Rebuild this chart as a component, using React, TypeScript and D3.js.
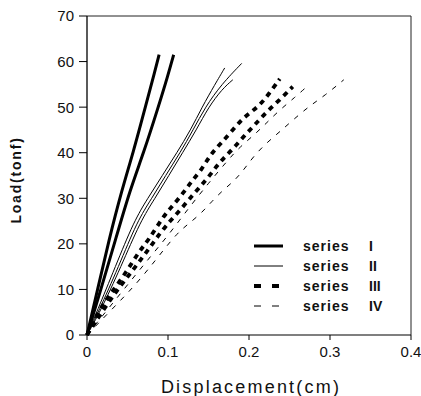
import React from "react";
import * as d3 from "d3";

const xTicks = [0, 0.1, 0.2, 0.3, 0.4];
const xTickLabels = ["0", "0.1", "0.2", "0.3", "0.4"];
const yTicks = [0, 10, 20, 30, 40, 50, 60, 70];

// Series I (thick solid) – two specimens
const seriesIa: [number, number][] = [
  [0, 0], [0.013, 9.9], [0.027, 20.8], [0.043, 31.8], [0.057, 40], [0.072, 50], [0.084, 58], [0.089, 61.5],
];
const seriesIb: [number, number][] = [
  [0, 0], [0.017, 9.9], [0.035, 20.8], [0.053, 31.8], [0.07, 40], [0.088, 50], [0.1, 57], [0.107, 61.5],
];
// Series II (thin solid) – three specimens
const seriesIIa: [number, number][] = [
  [0, 0], [0.012, 5], [0.035, 15], [0.058, 25], [0.075, 30], [0.093, 35], [0.111, 40], [0.128, 45], [0.142, 50], [0.158, 55], [0.17, 58.6],
];
const seriesIIb: [number, number][] = [
  [0, 0], [0.014, 5], [0.039, 15], [0.062, 25], [0.08, 30], [0.097, 35], [0.115, 40], [0.131, 45], [0.146, 50], [0.166, 55], [0.191, 59.6],
];
const seriesIIc: [number, number][] = [
  [0, 0], [0.016, 5], [0.042, 15], [0.066, 25], [0.084, 30], [0.101, 35], [0.118, 40], [0.135, 45], [0.15, 50], [0.167, 54], [0.18, 56],
];
// Series III (thick dashed) – two specimens
const seriesIIIa: [number, number][] = [
  [0, 0], [0.015, 5.5], [0.031, 9.5], [0.049, 13.9], [0.064, 18.3], [0.076, 20.8], [0.094, 26], [0.105, 28.2], [0.119, 31.2],
  [0.129, 33.7], [0.142, 36.4], [0.152, 39.5], [0.165, 42], [0.18, 45], [0.194, 47.9], [0.212, 50.1], [0.225, 53], [0.238, 56.2],
];
const seriesIIIb: [number, number][] = [
  [0, 0], [0.02, 5.5], [0.04, 10.5], [0.06, 15], [0.078, 19.3], [0.09, 22.3], [0.102, 24.9], [0.115, 27.4], [0.127, 30],
  [0.139, 32.4], [0.152, 35.1], [0.164, 38], [0.179, 40.6], [0.193, 43.5], [0.207, 46.1], [0.222, 49], [0.238, 51.6], [0.254, 54.5],
];
// Series IV (thin dashed) – two specimens
const seriesIVa: [number, number][] = [
  [0, 0], [0.025, 5.5], [0.05, 11], [0.075, 16.5], [0.1, 21.8], [0.127, 28.2], [0.15, 33.3], [0.174, 38.4],
  [0.189, 41.3], [0.207, 44], [0.222, 46.6], [0.238, 49.4], [0.257, 52.2], [0.272, 54.6],
];
const seriesIVb: [number, number][] = [
  [0, 0], [0.03, 5.5], [0.06, 11], [0.085, 16.5], [0.109, 21.9], [0.123, 24.1], [0.14, 26.5], [0.154, 29.3], [0.168, 31.8],
  [0.183, 34], [0.195, 36.6], [0.207, 39.5], [0.222, 42.2], [0.238, 44.6], [0.255, 47.3], [0.275, 50.3], [0.294, 52.6], [0.317, 56],
];

const legendLabels = ["series", "series", "series", "series"];
const legendNumerals = ["I", "II", "III", "IV"];

const styles = [
  { width: 3, dash: "none" },
  { width: 1, dash: "none" },
  { width: 3.8, dash: "5,5" },
  { width: 1, dash: "5,7" },
];

const groups = [
  { lines: [seriesIa, seriesIb], style: 0 },
  { lines: [seriesIIa, seriesIIb, seriesIIc], style: 1 },
  { lines: [seriesIIIa, seriesIIIb], style: 2 },
  { lines: [seriesIVa, seriesIVb], style: 3 },
];

export default function App() {
  const W = 421, H = 396;
  const left = 87, right = 411, top = 16, bottom = 335;
  const x = d3.scaleLinear().domain([0, 0.4]).range([left, right]);
  const y = d3.scaleLinear().domain([0, 70]).range([bottom, top]);
  const line = d3.line<[number, number]>().x((d) => x(d[0])).y((d) => y(d[1])).curve(d3.curveBasis);
  const font = "'Liberation Sans', Arial, sans-serif";

  return (
    <svg width={W} height={H} style={{ position: "absolute", left: 0, top: 0, background: "#fff" }} fontFamily={font}>
      <rect width={W} height={H} fill="#fff" />
      {/* frame */}
      <line x1={left} x2={right} y1={top} y2={top} stroke="#222" strokeWidth={1} />
      <line x1={right} x2={right} y1={top} y2={bottom} stroke="#222" strokeWidth={1} />
      <line x1={left} x2={left} y1={top} y2={bottom} stroke="#000" strokeWidth={1.3} />
      <line x1={left} x2={right} y1={bottom} y2={bottom} stroke="#000" strokeWidth={1.2} />
      {yTicks.map((t) => (
        <g key={"y" + t}>
          <line x1={left - 8} x2={left} y1={y(t)} y2={y(t)} stroke="#000" strokeWidth={1} />
          <text x={left - 13} y={y(t)} dy="0.36em" textAnchor="end" fontSize={15} fill="#111">{t}</text>
        </g>
      ))}
      {xTicks.map((t, i) => (
        <g key={"x" + t}>
          <line x1={x(t)} x2={x(t)} y1={bottom} y2={bottom + 5} stroke="#000" strokeWidth={1} />
          <text x={x(t)} y={bottom + 22} textAnchor="middle" fontSize={15} fill="#111">{xTickLabels[i]}</text>
        </g>
      ))}
      {/* series */}
      {groups.map((g, gi) =>
        g.lines.map((pts, li) => (
          <path
            key={gi + "-" + li}
            d={line(pts) || ""}
            fill="none"
            stroke="#000"
            strokeWidth={styles[g.style].width}
            strokeDasharray={styles[g.style].dash}
          />
        ))
      )}
      {/* legend */}
      {legendLabels.map((lab, i) => {
        const ly = 246 + i * 20;
        const s = styles[i];
        return (
          <g key={"lg" + i}>
            <line x1={254} x2={283} y1={ly} y2={ly} stroke="#000" strokeWidth={s.width} strokeDasharray={s.dash === "none" ? "none" : "7,11"} />
            <text x={303} y={ly + 5} fontSize={14} fontWeight="bold" letterSpacing={1} fill="#111">{lab}</text>
            <text x={369} y={ly + 5} fontSize={14} fontWeight="bold" fill="#111">{legendNumerals[i]}</text>
          </g>
        );
      })}
      {/* axis titles */}
      <text x={251} y={393} textAnchor="middle" fontSize={18} letterSpacing={2.2} fill="#111">Displacement(cm)</text>
      <text transform={`translate(21,180) rotate(-90)`} textAnchor="middle" fontSize={14} fontWeight="bold" letterSpacing={1.8} fill="#111">Load(tonf)</text>
    </svg>
  );
}
